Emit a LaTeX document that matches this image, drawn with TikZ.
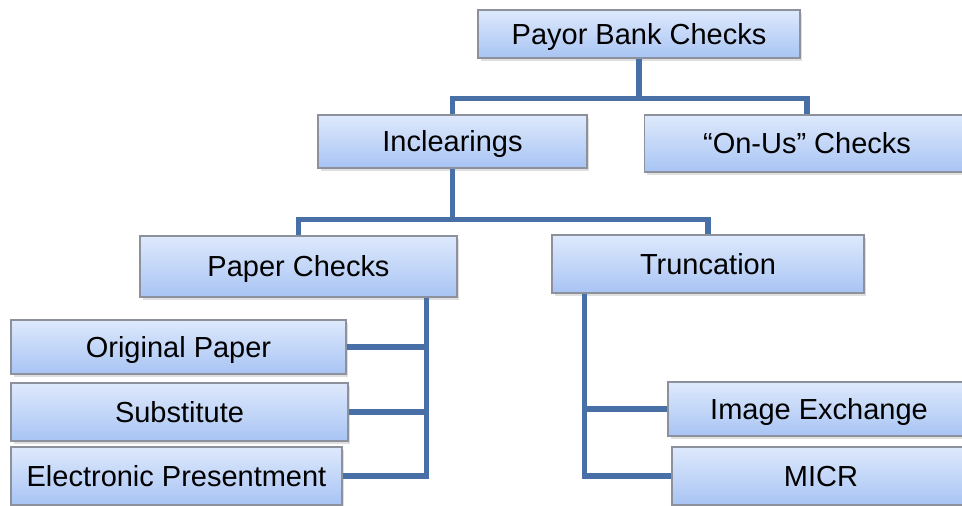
\documentclass[tikz,border=0pt]{standalone}
\usepackage{fontspec}
\setmainfont{Liberation Sans}
\usepackage{tikz}
\usetikzlibrary{positioning,calc,shadows}

\definecolor{boxtop}{RGB}{222,233,252}
\definecolor{boxbot}{RGB}{168,196,244}
\definecolor{boxline}{RGB}{140,145,155}
\definecolor{linkblue}{RGB}{72,112,166}

\begin{document}
\begin{tikzpicture}
[
   x=0.02cm, y=-0.02cm,
   align=center,
   font=\fontsize{16.5}{19}\selectfont
]

\tikzset{box/.style = {rectangle, draw=boxline, line width=0.8pt,
   top color=boxtop, bottom color=boxbot,
   drop shadow={opacity=0.25, shadow xshift=0.05cm, shadow yshift=-0.06cm},
   inner sep=0pt, text height=11.8pt, text depth=0pt}}
\tikzset{link/.style = {draw=linkblue, line width=3pt}}

\useasboundingbox (0,0) rectangle (962,505);

% nodes
\node[box, minimum width=6.44cm, minimum height=0.96cm] (pay) at (639,34) {Payor Bank Checks};
\node[box, minimum width=5.38cm, minimum height=1.06cm] (incl) at (452.5,141.5) {Inclearings};
\node[box, minimum width=6.5cm, minimum height=1.14cm] (onus) at (807,143.5) {“On-Us” Checks};
\node[box, minimum width=6.34cm, minimum height=1.22cm] (paper) at (298.5,266.5) {Paper Checks};
\node[box, minimum width=6.24cm, minimum height=1.16cm] (trunc) at (708,264) {Truncation};
\node[box, minimum width=6.7cm, minimum height=1.08cm] (orig) at (178.5,347) {Original Paper};
\node[box, minimum width=6.74cm, minimum height=1.16cm] (subs) at (179.5,412) {Substitute};
\node[box, minimum width=6.62cm, minimum height=1.16cm] (elec) at (176.5,476) {Electronic Presentment};
\node[box, minimum width=6.04cm, minimum height=1.08cm] (image) at (819,409) {Image Exchange};
\node[box, minimum width=5.96cm, minimum height=1.16cm] (micr) at (821,476) {MICR};

% arcs
\draw[link] (pay.south) -- ++(0,40) coordinate (j1);
\draw[link] (incl.north) |- (j1) -| (onus.north);

\draw[link] (incl.south) -- ++(0,51) coordinate (j2);
\draw[link] (paper.north) |- (j2) -| (trunc.north);

\coordinate (pv) at ($(paper.south east)+(-31,0)$);
\draw[link] (pv) |- (elec.east);
\draw[link] (orig.east) -- (orig.east -| pv);
\draw[link] (subs.east) -- (subs.east -| pv);

\coordinate (tv) at ($(trunc.south west)+(33,0)$);
\draw[link] (tv) |- (micr.west);
\draw[link] (image.west) -- (image.west -| tv);
\end{tikzpicture}
\end{document}
